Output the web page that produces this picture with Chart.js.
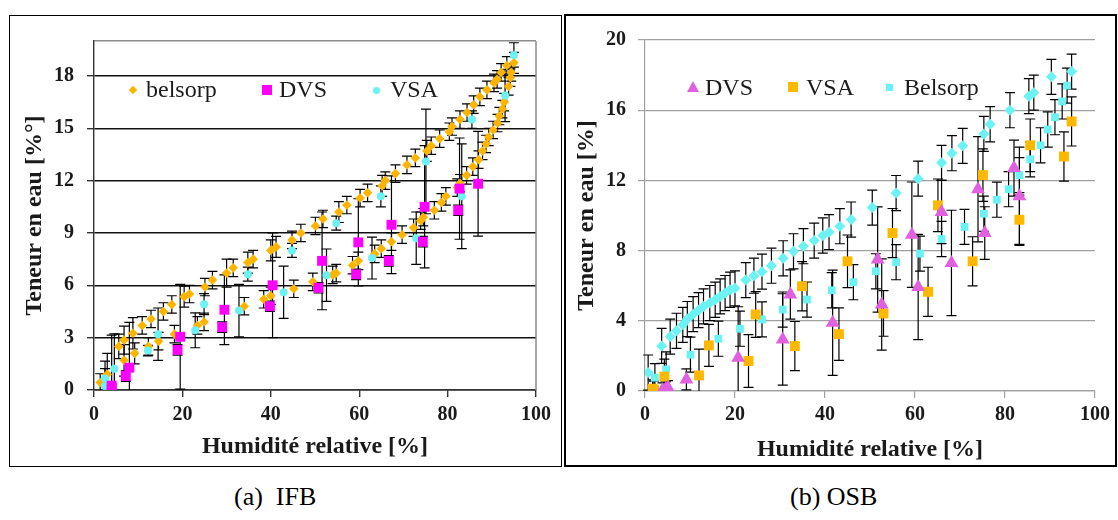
<!DOCTYPE html>
<html>
<head>
<meta charset="utf-8">
<script src="https://cdn.jsdelivr.net/npm/chart.js@4.4.1/dist/chart.umd.min.js"></script>
<style>
  body { margin: 0; background: #fff; width: 1118px; height: 520px; position: relative; overflow: hidden; font-family: 'Liberation Serif', 'Times New Roman', 'DejaVu Serif', serif; }
  .panel { position: absolute; box-sizing: border-box; }
  #pa { left: 9px; top: 15px; width: 553px; height: 452px; border: 1px solid #000; }
  #pb { left: 564px; top: 14px; width: 553px; height: 453px; border: 2px solid #000; }
  canvas { display: block; }
  .lg { position: absolute; font-size: 24px; line-height: 24px; color: #1a1a1a; white-space: nowrap; }
  .mk { position: absolute; }
  .cap { position: absolute; font-size: 26px; line-height: 30px; top: 482px; color: #000; white-space: pre; }
</style>
</head>
<body>
<div class="panel" id="pa"><canvas id="ifb" width="551" height="450"></canvas></div>
<div class="panel" id="pb"><canvas id="osb" width="549" height="449"></canvas></div>

<!-- legends sit inside the plot areas -->
<div class="mk" style="left:130px;top:87px;width:6px;height:6px;background:#FFB400;transform:rotate(45deg)"></div>
<div class="lg" style="left:146px;top:77px">belsorp</div>
<div class="mk" style="left:262px;top:85px;width:10px;height:10px;background:#FF00FF"></div>
<div class="lg" style="left:279px;top:77px">DVS</div>
<div class="mk" style="left:373px;top:87px;width:7px;height:7px;border-radius:50%;background:#6CF2F2"></div>
<div class="lg" style="left:390px;top:77px">VSA</div>

<div class="mk" style="left:687px;top:81px;width:0;height:0;border-left:6px solid transparent;border-right:6px solid transparent;border-bottom:11px solid #E060E0"></div>
<div class="lg" style="left:705px;top:75px">DVS</div>
<div class="mk" style="left:788px;top:82px;width:10px;height:10px;background:#FFB800"></div>
<div class="lg" style="left:806px;top:75px">VSA</div>
<div class="mk" style="left:886px;top:84px;width:7px;height:7px;background:#6CF2F2"></div>
<div class="lg" style="left:904px;top:75px">Belsorp</div>

<div class="cap" style="left:234px">(a)  IFB</div>
<div class="cap" style="left:790px">(b) OSB</div>

<script>
// ---- (a) IFB ----
const ifbBelX = [1.4, 3.0, 5.6, 6.8, 6.8, 8.8, 9.2, 10.9, 12.3, 12.9, 14.6, 15.7, 17.6, 18.2, 20.4, 21.6, 23.4, 24.9, 25.1, 26.8,
  30.0, 31.5, 34.0, 34.8, 36.0, 38.4, 40.0, 40.0, 41.2, 44.8, 45.2, 46.8, 49.5, 50.1, 51.8, 54.0, 54.8, 55.4, 57.2, 58.5,
  59.8, 60.2, 61.9, 63.5, 65.0, 65.2, 65.9, 67.3, 68.2, 69.7, 70.8, 72.3, 72.7, 73.9, 74.5, 75.3, 76.3, 77.0, 78.2, 78.6,
  79.6, 80.4, 81.0, 82.2, 82.8, 82.8, 84.3, 84.4, 85.7, 85.9, 87.0, 87.3, 87.9, 88.7, 88.9, 89.3, 90.3, 90.5, 91.2, 91.3,
  91.7, 92.1, 92.4, 92.8, 93.4, 93.8, 94.2, 94.4, 95.0];
const ifbBelY = [0.43, 0.9, 2.5, 2.86, 1.7, 3.25, 2.1, 3.7, 2.5, 4.07, 2.8, 4.5, 4.9, 3.2, 5.35, 5.5, 3.7, 3.9, 5.9, 6.3,
  6.7, 7.0, 4.8, 7.3, 7.5, 5.2, 5.4, 8.0, 8.2, 8.6, 5.8, 9.0, 6.2, 9.4, 9.8, 6.6, 6.7, 10.2, 10.6, 7.15,
  7.4, 11.0, 11.3, 7.8, 8.1, 11.7, 12.0, 8.5, 12.4, 8.9, 12.9, 9.3, 13.3, 9.7, 9.9, 13.7, 14.0, 10.3, 14.4, 10.75,
  11.1, 14.8, 15.1, 11.6, 11.85, 15.5, 12.3, 15.9, 12.8, 16.35, 13.2, 16.8, 13.7, 14.1, 17.2, 14.5, 14.9, 17.6, 17.8, 15.3,
  15.7, 18.2, 16.1, 16.5, 18.6, 17.4, 17.9, 18.2, 18.75];
const ifbBelErr = [0.5, 1.2, 0.7, 0.8, 0.9, 0.9, 0.6, 0.5, 0.5, 0.5, 0.5, 0.5, 0.5, 0.5, 0.6, 0.5, 0.5, 0.5, 0.5, 0.5,
  0.8, 0.5, 0.5, 0.6, 0.5, 0.5, 0.5, 0.6, 0.6, 0.5, 0.5, 0.5, 0.5, 0.5, 0.5, 0.5, 0.5, 0.6, 0.5, 0.5,
  0.5, 0.5, 0.5, 0.5, 0.5, 0.6, 0.5, 0.5, 0.5, 0.5, 0.5, 0.5, 0.5, 0.5, 0.5, 0.6, 0.5, 0.5, 0.5, 0.5,
  0.5, 0.5, 0.5, 0.5, 0.5, 0.5, 0.5, 0.5, 0.5, 0.5, 0.5, 0.5, 0.5, 0.5, 0.5, 0.5, 0.5, 0.5, 0.5, 0.5,
  0.5, 0.5, 0.5, 0.5, 0.5, 0.5, 0.5, 0.5, 0.6];

const ifbVsaX = [2.5, 2.5, 4.6, 12.2, 14.5, 22.9, 24.9, 32.8, 34.8, 42.9, 44.8, 52.6, 54.8, 62.9, 64.9, 72.9, 75.1, 83.2, 85.5, 93.0, 95.0];
const ifbVsaY = [0.66, 0.23, 1.22, 2.26, 3.2, 3.42, 4.92, 4.55, 6.64, 5.6, 8.0, 6.58, 9.56, 7.56, 11.1, 8.7, 13.1, 11.1, 15.5, 16.88, 19.2];
const ifbVsaErr = [1.0, 1.0, 2.0, 0.3, 1.5, 1.0, 0.6, 1.5, 0.4, 1.5, 0.4, 1.5, 0.4, 1.2, 0.6, 1.5, 3.0, 3.0, 0.5, 1.5, 0.7];

const ifbDvsX = [4.0, 4.0, 7.2, 8.0, 18.9, 19.5, 29.0, 29.5, 39.8, 40.4, 50.8, 51.6, 59.3, 59.8, 66.7, 67.3, 74.4, 74.8, 82.4, 82.7, 86.9];
const ifbDvsY = [0.04, 0.25, 0.8, 1.28, 2.3, 3.05, 3.6, 4.6, 4.8, 6.0, 5.86, 7.4, 6.63, 8.46, 7.4, 9.47, 8.5, 10.5, 10.3, 11.54, 11.82];
const ifbDvsErr = [0.3, 2.9, 0.3, 2.6, 0.3, 3.0, 0.3, 2.0, 0.3, 3.0, 0.3, 2.8, 0.3, 2.5, 0.3, 2.8, 0.3, 3.5, 0.3, 2.9, 3.0];

// ---- (b) OSB ----
const osbBelDesX = [0.7, 3.7, 5.6, 7.0, 8.4, 9.4, 10.7, 11.9, 13.0, 14.4, 15.6, 16.7, 17.8, 18.9, 20.0, 22.4, 24.2, 26.0, 28.1, 30.7,
  33.0, 35.2, 37.6, 39.5, 40.9, 43.3, 45.8, 50.5, 55.8, 60.7, 65.9, 68.2, 70.6, 75.3, 76.7, 81.1, 85.3, 86.4, 90.3, 94.8];
const osbBelDesY = [1.05, 2.57, 3.1, 3.43, 3.77, 4.1, 4.38, 4.61, 4.82, 5.01, 5.2, 5.39, 5.58, 5.77, 5.85, 6.32, 6.57, 6.8, 7.14, 7.56,
  7.96, 8.25, 8.57, 8.86, 9.05, 9.39, 9.77, 10.45, 11.28, 12.1, 13.0, 13.55, 13.97, 14.65, 15.2, 16.0, 16.8, 17.0, 17.9, 18.2];
const osbBelDesErr = [1.0, 1.0, 1.0, 1.0, 1.0, 1.0, 1.0, 1.0, 1.0, 1.0, 1.0, 1.0, 1.0, 1.0, 1.0, 1.0, 1.0, 1.0, 1.0, 1.0,
  1.0, 1.0, 1.0, 1.0, 1.0, 1.0, 1.0, 1.0, 1.0, 1.0, 1.0, 1.0, 1.0, 1.0, 1.0, 1.0, 1.0, 1.0, 1.0, 1.0];

const osbBelAdsX = [2.2, 4.7, 10.1, 16.3, 21.1, 26.0, 30.6, 36.0, 41.5, 46.3, 51.3, 55.8, 61.1, 65.9, 71.0, 75.3, 78.2, 80.8, 83.2, 85.6, 87.9, 89.5, 91.1, 92.7, 93.8];
const osbBelAdsY = [0.76, 1.23, 2.07, 2.98, 3.55, 4.08, 4.64, 5.21, 5.74, 6.2, 6.82, 7.34, 7.83, 8.66, 9.35, 10.1, 10.9, 11.5, 12.3, 13.2, 14.0, 14.9, 15.6, 16.5, 17.4];
const osbBelAdsErr = [0.8, 1.0, 1.0, 1.0, 1.0, 1.0, 1.0, 1.0, 1.0, 1.0, 1.0, 1.0, 1.0, 1.0, 1.0, 1.0, 1.0, 1.0, 1.0, 1.0, 1.0, 1.0, 1.0, 1.0, 1.0];

const osbVsaX = [1.7, 2.0, 4.3, 12.0, 14.2, 23.0, 24.6, 33.3, 34.9, 43.1, 45.0, 53.0, 55.0, 62.9, 65.1, 72.8, 75.1, 83.2, 85.6, 93.1, 94.8];
const osbVsaY = [0.13, 0.06, 0.82, 0.89, 2.6, 1.71, 4.36, 2.56, 5.97, 3.24, 7.39, 4.42, 9.0, 5.65, 10.58, 7.39, 12.3, 9.76, 14.0, 13.36, 15.36];
const osbVsaErr = [0.5, 0.5, 1.0, 1.5, 1.2, 1.5, 1.3, 1.4, 1.4, 1.5, 1.5, 1.3, 1.4, 1.4, 1.5, 1.4, 1.5, 1.4, 1.5, 1.4, 1.4];

const osbDvsX = [3.9, 4.6, 5.1, 9.2, 20.7, 30.6, 32.3, 41.7, 51.7, 52.6, 59.3, 60.7, 65.9, 68.1, 74.0, 75.5, 82.0, 83.2];
const osbDvsY = [0.06, 0.12, 0.19, 0.66, 1.9, 2.94, 5.5, 3.89, 7.49, 4.93, 8.91, 5.93, 10.2, 7.3, 11.5, 9.0, 12.7, 11.1];
const osbDvsErr = [0.4, 0.4, 0.4, 0.6, 2.9, 2.6, 1.4, 3.0, 3.0, 2.6, 3.0, 3.0, 1.8, 3.0, 3.0, 1.5, 1.6, 2.8];

const xTicks = [0, 20, 40, 60, 80, 100];

function pts(xs, ys) {
  return xs.map((x, i) => ({ x: x, y: ys[i] }));
}

// vertical error bars with caps, drawn under the markers
const errorBars = {
  id: 'errorBars',
  beforeDatasetsDraw(chart) {
    const { ctx, chartArea, scales } = chart;
    ctx.save();
    ctx.beginPath();
    ctx.rect(chartArea.left - 10, chartArea.top - 12, chartArea.width + 20, chartArea.bottom - chartArea.top + 12);
    ctx.clip();
    ctx.strokeStyle = '#000';
    ctx.lineWidth = 1.2;
    chart.data.datasets.forEach(ds => {
      if (!ds.errors) return;
      ds.data.forEach((p, i) => {
        const e = ds.errors[i];
        const px = scales.x.getPixelForValue(p.x);
        const t = scales.y.getPixelForValue(p.y + e);
        const b = scales.y.getPixelForValue(p.y - e);
        ctx.beginPath();
        ctx.moveTo(px, t); ctx.lineTo(px, b);
        ctx.moveTo(px - 5, t); ctx.lineTo(px + 5, t);
        ctx.moveTo(px - 5, b); ctx.lineTo(px + 5, b);
        ctx.stroke();
      });
    });
    ctx.restore();
  }
};

// grey right edge of the plot frame (IFB only)
const rightEdge = {
  id: 'rightEdge',
  beforeDatasetsDraw(chart, args, opts) {
    if (!opts.color) return;
    const { ctx, chartArea } = chart;
    ctx.save();
    ctx.strokeStyle = opts.color;
    ctx.lineWidth = 1.5;
    ctx.beginPath();
    ctx.moveTo(chartArea.right, chartArea.top);
    ctx.lineTo(chartArea.right, chartArea.bottom);
    ctx.stroke();
    ctx.restore();
  }
};

const serif = "'Liberation Serif', 'Times New Roman', 'DejaVu Serif', serif";
const tickFont = { family: serif, size: 20, weight: 'bold' };
const titleFont = { family: serif, size: 24, weight: 'bold' };

function axes(cfg) {
  return {
    x: {
      type: 'linear', min: 0, max: 100,
      afterBuildTicks: s => { s.ticks = xTicks.map(v => ({ value: v })); },
      afterFit: s => { s.height = cfg.xHeight; },
      ticks: { font: tickFont, color: '#1a1a1a', padding: cfg.xPad, maxRotation: 0 },
      grid: { drawOnChartArea: false, tickLength: 7, tickColor: cfg.axisColor, lineWidth: cfg.axisWidth },
      border: { color: cfg.axisColor, width: cfg.axisWidth },
      title: { display: true, text: 'Humidité relative [%]', font: titleFont, color: '#1a1a1a', padding: { top: 0, bottom: cfg.xTitlePad } }
    },
    y: {
      type: 'linear', min: 0, max: 20,
      afterBuildTicks: s => { s.ticks = cfg.yTicks.map(v => ({ value: v })); },
      afterFit: s => { s.width = cfg.yWidth; },
      ticks: {
        font: tickFont, color: '#1a1a1a', padding: cfg.yPad,
        callback: v => (cfg.yLabels.includes(v) ? String(v) : '')
      },
      grid: {
        color: c => (c.tick && c.tick.value === 20 ? cfg.topColor : cfg.gridColor),
        lineWidth: cfg.gridWidth,
        tickLength: 7,
        tickColor: c => (c.tick && c.tick.value === 20 && !cfg.yLabels.includes(20) ? 'rgba(0,0,0,0)' : cfg.axisColor)
      },
      border: { color: cfg.axisColor, width: cfg.axisWidth },
      title: { display: true, text: cfg.yTitle, font: titleFont, color: '#1a1a1a', padding: { top: cfg.yTitlePad, bottom: 0 } }
    }
  };
}

new Chart(document.getElementById('ifb'), {
  type: 'scatter',
  data: {
    datasets: [
      { label: 'DVS', data: pts(ifbDvsX, ifbDvsY), errors: ifbDvsErr, pointStyle: 'rect', pointRadius: 7, backgroundColor: '#FF00FF', borderWidth: 0 },
      { label: 'VSA', data: pts(ifbVsaX, ifbVsaY), errors: ifbVsaErr, pointStyle: 'circle', pointRadius: 4, backgroundColor: '#6CF2F2', borderWidth: 0 },
      { label: 'belsorp', data: pts(ifbBelX, ifbBelY), errors: ifbBelErr, pointStyle: 'rectRot', pointRadius: 4.8, backgroundColor: '#FFB400', borderWidth: 0 }
    ]
  },
  options: {
    responsive: false,
    animation: false,
    layout: { padding: { top: 19, right: 25, left: 0, bottom: 0 } },
    plugins: { legend: { display: false }, tooltip: { enabled: false }, rightEdge: { color: '#8c8c8c' } },
    scales: axes({
      xHeight: 76, xPad: 6, xTitlePad: 5, yWidth: 84, yPad: 13, yTitlePad: 10,
      yTicks: [0, 3, 6, 9, 12, 15, 18, 20], yLabels: [0, 3, 6, 9, 12, 15, 18],
      yTitle: 'Teneur en eau [%°]',
      gridColor: '#111', topColor: '#8c8c8c', gridWidth: 1.4,
      axisColor: '#333', axisWidth: 1.4
    })
  },
  plugins: [errorBars, rightEdge]
});

new Chart(document.getElementById('osb'), {
  type: 'scatter',
  data: {
    datasets: [
      { label: 'DVS', data: pts(osbDvsX, osbDvsY), errors: osbDvsErr, pointStyle: 'triangle', pointRadius: 8, backgroundColor: '#E060E0', borderWidth: 0 },
      { label: 'VSA', data: pts(osbVsaX, osbVsaY), errors: osbVsaErr, pointStyle: 'rect', pointRadius: 7, backgroundColor: '#FFB800', borderWidth: 0 },
      { label: 'Belsorp', data: pts(osbBelAdsX, osbBelAdsY), errors: osbBelAdsErr, pointStyle: 'rect', pointRadius: 5.5, backgroundColor: '#6CF2F2', borderWidth: 0 },
      { label: 'Belsorp', data: pts(osbBelDesX, osbBelDesY), errors: osbBelDesErr, pointStyle: 'rectRot', pointRadius: 5.5, backgroundColor: '#6CF2F2', borderWidth: 0 }
    ]
  },
  options: {
    responsive: false,
    animation: false,
    layout: { padding: { top: 24, right: 19, left: 0, bottom: 0 } },
    plugins: { legend: { display: false }, tooltip: { enabled: false } },
    scales: axes({
      xHeight: 74, xPad: 5, xTitlePad: 1, yWidth: 79, yPad: 12, yTitlePad: 6,
      yTicks: [0, 4, 8, 12, 16, 20], yLabels: [0, 4, 8, 12, 16, 20],
      yTitle: 'Teneur en eau [%]',
      gridColor: '#a0a0a0', topColor: '#a0a0a0', gridWidth: 1.2,
      axisColor: '#a0a0a0', axisWidth: 1.2
    })
  },
  plugins: [errorBars]
});
</script>
</body>
</html>
